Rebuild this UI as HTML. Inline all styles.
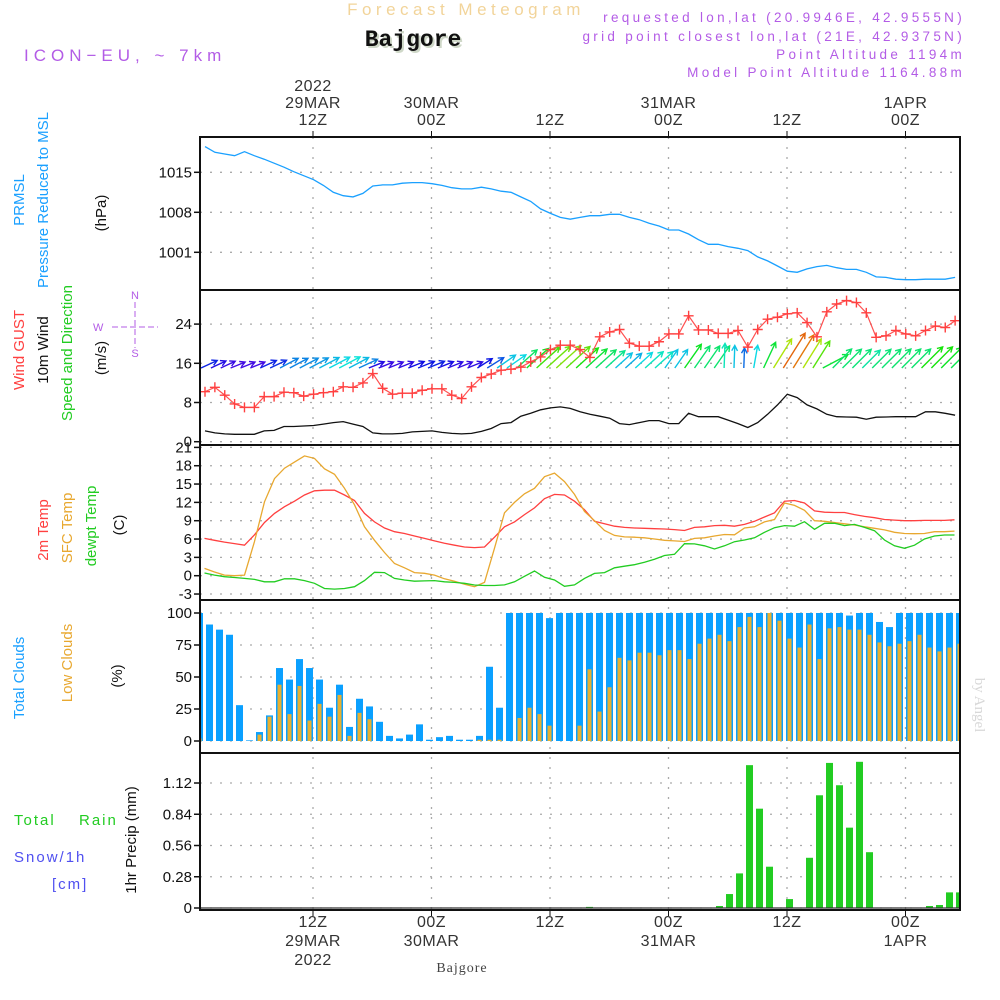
<!DOCTYPE html>
<html><head><meta charset="utf-8">
<style>
html,body{margin:0;padding:0;background:#fff;}
svg{display:block;font-family:"Liberation Sans",sans-serif;}
.tk{font-size:15px;fill:#111;text-anchor:end;}
.tm{font-size:16px;fill:#333;text-anchor:middle;letter-spacing:0.5px;}
.lab{font-size:15px;}
</style></head>
<body>
<svg id="chart" width="1000" height="1000" viewBox="0 0 1000 1000" xmlns="http://www.w3.org/2000/svg">
<text x="466" y="15" font-size="17" fill="#f2d49a" text-anchor="middle" letter-spacing="4.5">Forecast Meteogram</text>
<text x="415" y="48" font-size="23" font-weight="bold" fill="#cfd8c8" text-anchor="middle" font-family="Liberation Mono, monospace">Bajgore</text>
<text x="413" y="46" font-size="23" font-weight="bold" fill="#111" text-anchor="middle" font-family="Liberation Mono, monospace">Bajgore</text>
<text x="24" y="61" font-size="17" fill="#b35ce6" letter-spacing="5">ICON−EU, ~ 7km</text>
<g font-size="13.5" fill="#b35ce6" text-anchor="end" letter-spacing="3.3">
<text x="965" y="22">requested lon,lat (20.9946E, 42.9555N)</text>
<text x="965" y="41">grid point closest lon,lat (21E, 42.9375N)</text>
<text x="965" y="59">Point Altitude 1194m</text>
<text x="965" y="77">Model Point Altitude 1164.88m</text>
</g>
<g class="lab">
<text transform="translate(24,200) rotate(-90)" text-anchor="middle" fill="#1aa0ff">PRMSL</text>
<text transform="translate(48,200) rotate(-90)" text-anchor="middle" fill="#1aa0ff">Pressure Reduced to MSL</text>
<text transform="translate(106,213) rotate(-90)" text-anchor="middle" fill="#111">(hPa)</text>
<text transform="translate(24,350) rotate(-90)" text-anchor="middle" fill="#ff4040">Wind GUST</text>
<text transform="translate(48,350) rotate(-90)" text-anchor="middle" fill="#111">10m Wind</text>
<text transform="translate(72,353) rotate(-90)" text-anchor="middle" fill="#22cc22">Speed and Direction</text>
<text transform="translate(106,358) rotate(-90)" text-anchor="middle" fill="#111">(m/s)</text>
<text transform="translate(48,530) rotate(-90)" text-anchor="middle" fill="#ff4040">2m Temp</text>
<text transform="translate(72,528) rotate(-90)" text-anchor="middle" fill="#e8a830">SFC Temp</text>
<text transform="translate(96,526) rotate(-90)" text-anchor="middle" fill="#22cc22">dewpt Temp</text>
<text transform="translate(124,525) rotate(-90)" text-anchor="middle" fill="#111">(C)</text>
<text transform="translate(24,678) rotate(-90)" text-anchor="middle" fill="#1aa0ff">Total Clouds</text>
<text transform="translate(72,663) rotate(-90)" text-anchor="middle" fill="#e8a830">Low Clouds</text>
<text transform="translate(122,676) rotate(-90)" text-anchor="middle" fill="#111">(%)</text>
<text transform="translate(136,840) rotate(-90)" text-anchor="middle" fill="#111">1hr Precip (mm)</text>
<text x="14" y="825" fill="#22cc22" letter-spacing="2">Total</text>
<text x="79" y="825" fill="#22cc22" letter-spacing="2">Rain</text>
<text x="14" y="862" fill="#5050f0" letter-spacing="2">Snow/1h</text>
<text x="52" y="889" fill="#5050f0" letter-spacing="2">[cm]</text>
</g>
<g fill="#b35ce6" stroke="#b35ce6" font-size="11">
<text x="135" y="299" stroke="none" text-anchor="middle">N</text>
<text x="135" y="357" stroke="none" text-anchor="middle">S</text>
<text x="93" y="331" stroke="none">W</text>
<line x1="112" y1="327" x2="158" y2="327" stroke-dasharray="6,3"/>
<line x1="135" y1="302" x2="135" y2="348" stroke-dasharray="6,3"/>
</g>
<text transform="translate(975,705) rotate(90)" font-family="Liberation Serif, serif" font-size="15" fill="#d8d8d8" text-anchor="middle">by Angel</text>
<text x="462" y="972" font-family="Liberation Serif, serif" font-size="14" fill="#444" text-anchor="middle" letter-spacing="1">Bajgore</text>
<g id="plot"></g>
</svg>
<script>
// ---- data ----
const timeTickHours = [12, 24, 36, 48, 60, 72];
const topTickLabels = [["2022","29MAR","12Z"],["30MAR","00Z"],["12Z"],["31MAR","00Z"],["12Z"],["1APR","00Z"]];
const bottomTickLabels = [["12Z","29MAR","2022"],["00Z","30MAR"],["12Z"],["00Z","31MAR"],["12Z"],["00Z","1APR"]];
const pressureTicks = [1015, 1008, 1001];
const windTicks = [24, 16, 8, 0];
const tempTicks = [21, 18, 15, 12, 9, 6, 3, 0, -3];
const cloudTicks = [100, 75, 50, 25, 0];
const precipTicks = [1.12, 0.84, 0.56, 0.28, 0];
const precipTickLabels = ["1.12", "0.84", "0.56", "0.28", "0"];
const pressure = [1019.5,1018.5,1018.2,1017.9,1018.6,1017.9,1017.3,1016.6,1015.9,1015.1,
1014.4,1013.7,1012.7,1011.5,1010.9,1010.7,1011.3,1012.6,1012.8,1012.8,
1013.1,1013.2,1013.2,1013.0,1012.7,1012.3,1012.1,1012.1,1012.4,1012.1,
1011.7,1011.5,1010.7,1009.9,1008.6,1007.8,1007.1,1006.8,1007.1,1007.4,
1007.4,1007.65,1007.65,1007.1,1006.7,1006.1,1005.6,1004.9,1004.9,1004.2,
1003.2,1002.4,1002.4,1002.0,1001.7,1001.3,1000.2,999.5,998.6,997.7,
997.5,998.1,998.5,998.7,998.3,998.0,998.0,997.5,996.7,996.6,
996.3,996.2,996.2,996.3,996.3,996.3,996.6];
const gust = [10.2,11.1,9.5,7.7,7.0,7.0,9.2,9.2,10.1,10.0,
9.3,9.7,10.0,10.2,11.2,11.1,12.0,13.9,10.9,9.7,
9.9,9.9,10.5,10.8,10.8,9.5,8.8,11.2,13.1,13.8,
14.6,14.8,15.2,16.3,17.3,18.8,19.7,19.7,18.8,17.2,
21.4,22.4,22.9,20.1,19.5,19.5,20.4,22.0,22.0,25.7,
22.8,22.8,22.1,22.1,22.7,19.3,22.9,25.0,25.4,26.1,
26.3,24.3,21.4,26.5,28.1,28.8,28.4,26.3,21.3,21.6,
22.7,22.0,21.6,22.7,23.6,23.3,24.7];
const windSpeed = [2.2,1.8,1.6,1.5,1.5,1.5,2.2,2.3,3.1,3.1,
3.2,3.3,3.6,3.9,4.1,3.6,3.1,1.8,1.6,1.6,
1.7,2.0,2.1,2.2,1.9,1.7,1.6,1.7,2.1,2.7,
3.7,3.9,5.2,5.8,6.5,6.9,7.1,6.8,6.1,5.6,
5.2,4.8,3.7,3.5,3.9,4.3,4.3,3.7,3.7,5.8,
5.1,5.1,5.1,4.4,3.7,2.9,3.9,5.6,7.5,9.7,
9.0,7.5,6.7,5.6,5.1,5.05,5.0,4.6,5.0,5.05,
5.1,5.1,5.1,6.1,6.1,5.8,5.4];
const windDirTo = [25,25,25,22,22,22,25,25,28,28,
28,28,28,28,28,28,25,22,22,22,
22,22,22,22,22,22,22,22,32,32,
35,35,42,42,42,42,42,42,42,42,
42,42,42,42,42,42,42,55,55,55,
55,55,55,88,88,88,80,65,58,58,
58,58,58,28,45,45,45,45,45,45,
45,45,45,45,45,45,45];
const temp2m = [6.1,5.8,5.5,5.25,5.0,6.7,8.7,10.2,11.3,12.2,
13.2,13.9,14.0,14.0,13.2,12.3,10.2,8.8,7.8,7.2,
6.9,6.5,6.1,5.7,5.3,5.0,4.7,4.6,4.7,6.3,
8.0,8.8,10.0,11.1,12.6,13.3,13.2,12.2,10.8,8.9,
8.5,8.1,7.9,7.8,7.75,7.7,7.65,7.55,7.4,7.9,
8.0,8.2,8.25,8.1,8.4,8.9,9.6,10.3,12.2,12.3,
11.9,10.6,10.4,10.35,10.35,10.0,9.7,9.5,9.2,9.1,
9.0,9.0,9.05,9.05,9.05,9.15];
const tempSfc = [1.2,0.6,0.1,0.0,0.1,5.6,12.1,15.9,17.6,18.6,
19.6,19.2,17.5,16.6,14.3,11.6,8.0,5.8,3.8,2.0,
1.3,0.5,0.4,0.1,-0.5,-0.9,-1.4,-1.8,-1.1,4.5,
10.3,12.0,13.4,14.3,16.2,16.8,15.4,13.3,10.5,9.0,
7.4,6.6,6.35,6.3,6.2,6.0,5.8,5.7,5.6,6.1,
6.2,6.5,6.75,6.7,7.8,8.0,8.8,9.2,11.9,11.5,
10.7,9.0,8.9,8.7,8.5,8.3,8.0,7.75,7.5,7.1,
6.9,6.87,6.9,7.2,7.2,7.3];
const dewpoint = [0.44,0.1,-0.16,-0.3,-0.44,-0.6,-1.0,-1.0,-0.5,-0.5,
-0.8,-1.25,-2.1,-2.2,-2.1,-1.8,-0.8,0.55,0.5,-0.44,
-0.7,-0.9,-0.85,-0.8,-1.0,-1.1,-1.25,-1.52,-1.6,-1.6,
-1.5,-1.0,-0.1,0.77,-0.27,-0.7,-1.74,-1.5,-0.44,0.38,
0.5,1.3,1.55,1.8,2.2,2.7,3.3,3.5,5.24,5.2,
4.9,4.37,4.9,5.57,5.84,6.2,7.1,7.86,8.2,8.1,
8.84,7.6,8.57,8.57,8.2,8.4,7.9,7.37,5.84,4.9,
4.48,5.0,6.0,6.5,6.66,6.66];
const totalClouds = [100,91,87,83,28,0.5,7,20,57,48,
64,57,48,26,44,11,33,27,15,4,
2,5,13,1,3,4,1,1,4,58,
26,100,100,100,100,96,100,100,100,100,
100,100,100,100,100,100,100,100,100,100,
100,100,100,100,100,100,100,100,100,100,
100,100,100,100,100,98,100,100,93,89,
100,100,100,100,100,100,100];
const lowClouds = [2,0,0,0,0,0,5,19,44,21,
43,16,29,19,36,4,22,17,0,0,
0,0,0,0,0,0,0,0,1,1,
1,0,18,26,21,12,0,0,12,56,
23,42,65,63,69,69,67,71,71,64,
76,80,83,78,89,97,89,100,94,80,
73,91,64,88,89,87,87,83,77,74,
76,78,83,73,70,73,76];
const precip = [0,0,0,0,0,0,0,0,0,0,
0,0,0,0,0,0,0,0,0,0,
0,0,0,0,0,0,0,0,0,0,
0,0,0,0,0,0,0,0,0,0.01,
0,0,0,0,0,0,0,0,0,0,
0,0,0.018,0.125,0.31,1.28,0.89,0.37,0,0.08,
0,0.45,1.01,1.30,1.10,0.72,1.31,0.50,0,0,
0,0,0,0.018,0.027,0.14,0.14];

// ---- scales ----
const X0 = 200, X1 = 960;
const xTime = h => 194.5 + 9.875 * h;
const xLine = k => 205 + 9.87 * k;
const xTemp = k => 204.5 + 10 * k;
const xBar = i => 199.5 + 10 * i;
const yP = p => 172.3 - (p - 1015) * 5.714;
const yW = v => 441.7 - v * 4.9;
const yT = t => 575.7 - t * 6.11;
const yC = c => 741 - c * 1.28;
const yR = r => 908 - r * 111.6;
const panels = [[137,290,"pressure-panel"],[290,445,"wind-panel"],[445,600,"temperature-panel"],[600,753,"clouds-panel"],[753,910,"precip-panel"]];

const NS = "http://www.w3.org/2000/svg";
const plot = document.getElementById("plot");
function mk(tag, attrs, parent) {
  const e = document.createElementNS(NS, tag);
  for (const k in attrs) e.setAttribute(k, attrs[k]);
  (parent || plot).appendChild(e);
  return e;
}
const defs = mk("defs", {});
panels.forEach((p, i) => {
  const cp = mk("clipPath", {id: "clip" + i}, defs);
  mk("rect", {x: X0, y: p[0], width: X1 - X0, height: p[1] - p[0]}, cp);
});

const grid = mk("g", {stroke: "#aaa", "stroke-width": 1.3, "stroke-dasharray": "2,8"});


timeTickHours.forEach(h => {
  const l = mk("line", {x1: xTime(h), x2: xTime(h), y1: 137, y2: 910}, grid);
  
  
});
function hgrid(ticks, yf, name) {
  ticks.forEach(t => {
    const l = mk("line", {x1: X0, x2: X1, y1: yf(t), y2: yf(t)}, grid);
    
    
  });
}
hgrid(pressureTicks, yP, "pressure-gridline");
hgrid(windTicks, yW, "wind-gridline");
hgrid(tempTicks, yT, "temp-gridline");
hgrid(cloudTicks, yC, "cloud-gridline");
hgrid(precipTicks, yR, "precip-gridline");

function yticks(ticks, labels, yf, name) {
  ticks.forEach((t, i) => {
    const tx = mk("text", {x: 192, y: yf(t) + 5, class: "tk"});
    tx.textContent = labels ? labels[i] : String(t);
    
    
    const tl = mk("line", {x1: 194, x2: 200, y1: yf(t), y2: yf(t), stroke: "#111", "stroke-width": 1.5});
    
    
  });
}
yticks(pressureTicks, null, yP, "pressure-tick");
yticks(windTicks, null, yW, "wind-tick");
yticks(tempTicks, null, yT, "temp-tick");
yticks(cloudTicks, null, yC, "cloud-tick");
yticks(precipTicks, precipTickLabels, yR, "precip-tick");

timeTickHours.forEach((h, i) => {
  const top = topTickLabels[i];
  top.forEach((s, j) => {
    const t = mk("text", {x: xTime(h), y: 125 - (top.length - 1 - j) * 17, class: "tm"});
    t.textContent = s;
    
    
  });
  bottomTickLabels[i].forEach((s, j) => {
    const t = mk("text", {x: xTime(h), y: 927 + j * 19, class: "tm"});
    t.textContent = s;
    
    
  });
  const m1 = mk("line", {x1: xTime(h), x2: xTime(h), y1: 131, y2: 137, stroke: "#111"});
  
  
  const m2 = mk("line", {x1: xTime(h), x2: xTime(h), y1: 910, y2: 916, stroke: "#111"});
  
  
});

function polyline(vals, xf, yf, color, clipIdx, name, w) {
  const pts = vals.map((v, k) => xf(k).toFixed(1) + "," + yf(v).toFixed(1)).join(" ");
  const p = mk("polyline", {points: pts, fill: "none", stroke: color, "stroke-width": w || 1.3, "clip-path": "url(#clip" + clipIdx + ")"});
  
  
  return p;
}

polyline(pressure, xLine, yP, "#1aa0ff", 0, "pressure-line");

const arrows = mk("g", {"clip-path": "url(#clip1)", "stroke-width": 1.4, fill: "none"});


windSpeed.forEach((s, k) => {
  const hue = Math.max(25, 300 - 30 * s);
  const col = "hsl(" + hue + ",90%,47%)";
  const L = 11 + 3.1 * s;
  const a = windDirTo[k] * Math.PI / 180;
  const x0 = xLine(k) - 4, y0 = 368;
  const x1 = x0 + L * Math.cos(a), y1 = y0 - L * Math.sin(a);
  const h1 = a + Math.PI - 0.5, h2 = a + Math.PI + 0.5;
  const hl = 6;
  const d = "M" + x0.toFixed(1) + "," + y0 + "L" + x1.toFixed(1) + "," + y1.toFixed(1) +
    "M" + (x1 + hl * Math.cos(h1)).toFixed(1) + "," + (y1 - hl * Math.sin(h1)).toFixed(1) + "L" + x1.toFixed(1) + "," + y1.toFixed(1) +
    "L" + (x1 + hl * Math.cos(h2)).toFixed(1) + "," + (y1 - hl * Math.sin(h2)).toFixed(1);
  const p = mk("path", {d: d, stroke: col}, arrows);
  
  
});
polyline(gust, xLine, yW, "#ff5050", 1, "gust-line", 1.2);
const gm = mk("g", {stroke: "#ff4040", "stroke-width": 1.4, "clip-path": "url(#clip1)"});


gust.forEach((v, k) => {
  const x = xLine(k), y = yW(v);
  const p = mk("path", {d: "M" + (x - 5) + "," + y + "H" + (x + 5) + "M" + x + "," + (y - 5) + "V" + (y + 5)}, gm);
  
  
});
polyline(windSpeed, xLine, yW, "#111", 1, "wind-speed-line", 1.3);

polyline(temp2m, xTemp, yT, "#ff4040", 2, "t2m-line");
polyline(tempSfc, xTemp, yT, "#e8a830", 2, "sfc-temp-line");
polyline(dewpoint, xTemp, yT, "#22cc22", 2, "dewpoint-line");

const cg = mk("g", {"clip-path": "url(#clip3)"});


totalClouds.forEach((c, i) => {
  const r = mk("rect", {x: xBar(i) - 3.5, y: yC(c), width: 7, height: 741 - yC(c), fill: "#0aa0ff"}, cg);
  
  
});
lowClouds.forEach((c, i) => {
  const r = mk("rect", {x: xBar(i) - 2, y: yC(c), width: 4, height: 741 - yC(c), fill: "#e8b030"}, cg);
  
  
});

const pg = mk("g", {"clip-path": "url(#clip4)"});


precip.forEach((r, i) => {
  if (r <= 0) return;
  const b = mk("rect", {x: xBar(i) - 3.5, y: yR(r), width: 7, height: Math.max(1, 908 - yR(r)), fill: "#22cc22"}, pg);
  
  
});
const base = mk("line", {x1: X0, x2: X1, y1: 908, y2: 908, stroke: "#333", "stroke-width": 1.3});



panels.forEach(p => {
  const r = mk("rect", {x: X0, y: p[0], width: X1 - X0, height: p[1] - p[0], fill: "none", stroke: "#111", "stroke-width": 2});
  
  
});
</script>
</body></html>
